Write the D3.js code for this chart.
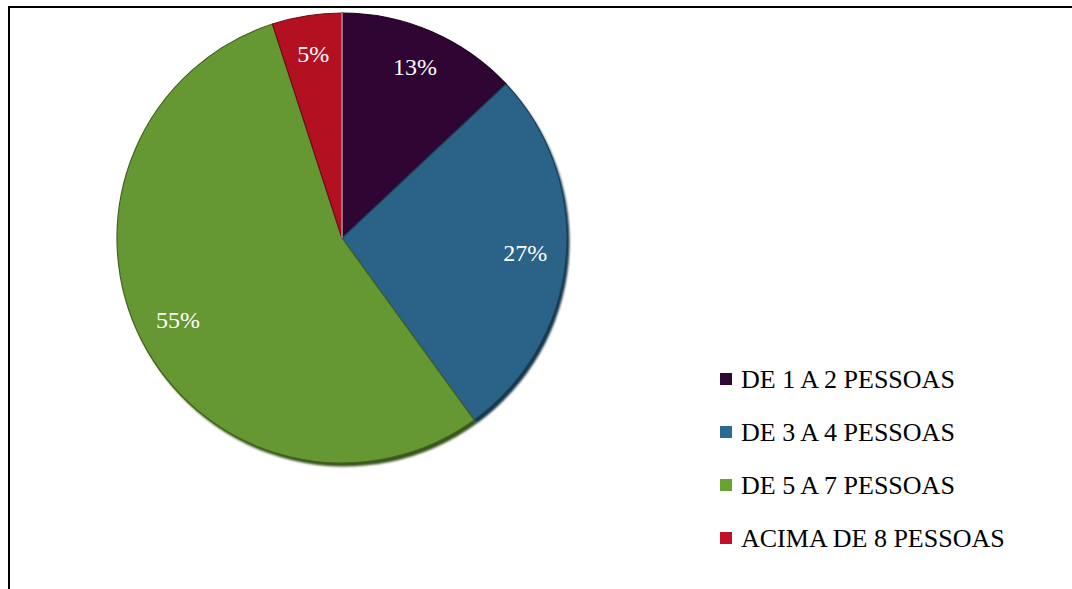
<!DOCTYPE html>
<html>
<head>
<meta charset="utf-8">
<script src="https://cdn.jsdelivr.net/npm/d3@7"></script>
<style>
  body { margin: 0; background: #fff; }
  svg { display: block; }
  svg text { font-family: 'Liberation Serif', 'Times New Roman', Times, 'DejaVu Serif', serif; }
</style>
</head>
<body>
<div id="chart"></div>
<script>
// chart data
const categories = ['DE 1 A 2 PESSOAS', 'DE 3 A 4 PESSOAS', 'DE 5 A 7 PESSOAS', 'ACIMA DE 8 PESSOAS'];
const values = [13, 27, 55, 5];
const sliceColors = ['#2e0533', '#2a6387', '#659832', '#b31121'];
const legendColors = ['#2e0734', '#2d6a93', '#6aa232', '#c2102a'];

const width = 1072, height = 589;
const cx = 342, cy = 238, radius = 225;

const svg = d3.select('#chart')
  .append('svg')
  .attr('width', width)
  .attr('height', height);

// frame (top and left edges only visible)
svg.append('line')
  .attr('x1', 8).attr('x2', width).attr('y1', 7).attr('y2', 7)
  .attr('stroke', '#000').attr('stroke-width', 2);
svg.append('line')
  .attr('x1', 9).attr('x2', 9).attr('y1', 6).attr('y2', height)
  .attr('stroke', '#000').attr('stroke-width', 2);

const pie = d3.pie().sort(null).value(d => d);
const arcs = pie(values);
const arc = d3.arc().innerRadius(0).outerRadius(radius);
const labelArc = d3.arc().innerRadius(184).outerRadius(184);

const defs = svg.append('defs');
const blur = defs.append('filter').attr('id', 'soft')
  .attr('x', '-10%').attr('y', '-10%').attr('width', '120%').attr('height', '120%');
blur.append('feGaussianBlur').attr('stdDeviation', 0.9);

const g = svg.append('g').attr('transform', `translate(${cx},${cy})`);

// shadow layer
g.append('g')
  .attr('transform', 'translate(2.5,3.5)')
  .attr('filter', 'url(#soft)')
  .selectAll('path')
  .data(arcs)
  .join('path')
  .attr('d', arc)
  .attr('fill', (d, i) => d3.color(sliceColors[i]).darker(1.7));

// slices, each with a small dark edge
g.selectAll('path.slice')
  .data(arcs)
  .join('path')
  .attr('class', 'slice')
  .attr('d', arc)
  .attr('fill', (d, i) => sliceColors[i])
  .attr('stroke', (d, i) => d3.color(sliceColors[i]).darker(1.2))
  .attr('stroke-width', 1.2)
  .attr('stroke-linejoin', 'round');

// light separator between last and first slice
g.append('line')
  .attr('x1', 0).attr('y1', 0).attr('x2', 0).attr('y2', -radius)
  .attr('stroke', '#a891a8').attr('stroke-width', 1.5);

// percentage labels
g.selectAll('text.pct')
  .data(arcs)
  .join('text')
  .attr('class', 'pct')
  .attr('x', d => labelArc.centroid(d)[0])
  .attr('y', d => labelArc.centroid(d)[1] + 6)
  .attr('text-anchor', 'middle')
  .attr('font-size', 24)
  .attr('fill', '#fff')
  .text(d => d.data + '%');

// legend
const legend = svg.append('g').attr('transform', 'translate(720,373)');
const rows = legend.selectAll('g')
  .data(categories)
  .join('g')
  .attr('transform', (d, i) => `translate(0,${i * 53})`);
rows.append('rect')
  .attr('x', 0).attr('y', 0).attr('width', 12).attr('height', 12)
  .attr('fill', (d, i) => legendColors[i]);
rows.append('text')
  .attr('x', 21).attr('y', 15)
  .attr('font-size', 26)
  .attr('fill', '#000')
  .text(d => d);
</script>
</body>
</html>
